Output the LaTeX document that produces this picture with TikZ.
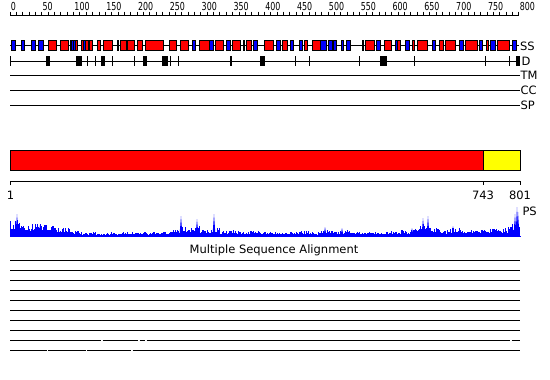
\documentclass[tikz,border=0pt]{standalone}
\usepackage{fontspec}
\setmainfont{DejaVu Sans}
\usepackage{tikz}

\definecolor{ssred}{RGB}{255,0,0}
\definecolor{ssblue}{RGB}{0,0,255}
\definecolor{domyellow}{RGB}{255,255,0}

\begin{document}
\begin{tikzpicture}[x=1pt, y=-1pt, line width=1pt,
    every node/.style={font=\fontsize{11.5}{12}\selectfont, inner sep=0pt},
    rulenum/.style={font=\fontsize{11}{11}\selectfont, xscale=0.72, anchor=base west},
    trackname/.style={anchor=base west},
    helix/.style={draw=black, fill=ssred, line width=0.8pt},
    strand/.style={draw=black, fill=ssblue, line width=0.8pt}]
    \fill[white] (0,0) rectangle (550,380);
    \useasboundingbox (0,0) rectangle (550,380);

    % top ruler
    \draw (10,15) -- (519,15);
    \foreach \r in {0,10,...,800}
        \draw (10+0.63625*\r,11.5) -- (10+0.63625*\r,15);
    \foreach \r in {0,50,...,800}
        \node[rulenum] (r\r) at (10.5+0.63625*\r,10) {\r};

    % secondary structure
    \draw (10,45) -- (519,45);
    \foreach \a/\b in {11/15.7, 21/24.3, 31/35.7, 38/43, 71/73, 73/75, 83/85,
        192.7/195.3, 209/213, 226.7/230, 253/257.7, 276/280, 290.7/293.3,
        299/302, 320.7/326.7, 328/332, 333.3/336.7, 341/343.3, 346.7/350.7,
        376.7/380, 395/397.7, 405/409, 432.7/435.7, 459/463.3, 479/482.3,
        490/495.7, 512.7/516}
        \draw[strand] (\a,40) rectangle (\b,50);
    \foreach \a/\b in {48/56, 60/68, 70/71, 75/77, 81/83, 85/88, 89/92, 97/100,
        103/112, 117/118, 120.7/126.7, 127.3/134.3, 137/142, 145.7/163.3,
        169/176, 180/188, 199/209, 215/223, 232.7/240, 243.3/244.3,
        246.7/251.7, 264/273, 282/287, 304/307, 312/320.7, 332/333, 362/363,
        365/374, 384/391.7, 397.7/400.7, 412/414, 417/427, 439/443.3,
        445/455.7, 465.7/477.7, 486.7/488.3, 497.7/509.3}
        \draw[helix] (\a,40) rectangle (\b,50);
    \node[trackname] (ss) at (519.5,50) {SS};

    % disorder
    \draw (10,61) -- (520,61);
    \foreach \a/\b in {45.7/50, 76/81.7, 101/105, 143.3/146.7, 162.3/167.7,
        230/232.3, 260/265, 308.5/310, 380/386.7, 516/520}
        \fill (\a,56) rectangle (\b,65.5);
    \foreach \x in {10.5, 87.5, 95, 112.3, 134, 170.5, 178, 295.5, 359, 414.5, 485, 509}
        \draw (\x,56) -- (\x,65.5);
    \node[trackname] (d) at (521,65.5) {D};

    % empty tracks
    \draw (10,75) -- (520,75);
    \node[trackname] (tm) at (520,79.2) {TM};
    \draw (10,90.5) -- (520,90.5);
    \node[trackname] (cc) at (520,94.7) {CC};
    \draw (10,105.5) -- (520,105.5);
    \node[trackname] (sp) at (520,109.7) {SP};

    % domains
    \draw[fill=ssred] (10,150) rectangle (483,170.5);
    \draw[fill=domyellow] (483,150) rectangle (520,170.5);

    % scale
    \draw (10,181) -- (520,181);
    \foreach \x in {10,483,520}
        \draw (\x,181) -- (\x,185);
    \node[anchor=base] (s1) at (10.5,199.5) {1};
    \node[anchor=base] (s743) at (483,199.5) {743};
    \node[anchor=base] (s801) at (520,199.5) {801};

    % PS plot
    \pgfmathsetseed{7}
    \draw[ssblue] (10,236) -- (521,236);
    \foreach \e [count=\i from 0] in {16,14,14,12,10,8,5,4,4,3,4,4,4,4,4,5,7,9,10,7,
        8,5,6,4,6,4,4,4,4,5,4,6,5,6,4,4,4,4,5,6,10,16,10,6,8,6,6,7,8,9,14}
        \foreach \k in {0,...,9} {
            \pgfmathsetmacro\h{\e*(0.35+0.65*rnd)}
            \fill[ssblue] (10+10*\i+\k,236) rectangle ++(1.2,-\h);
        }
    \foreach \x/\h in {17/22, 40/11, 181/20, 197/17, 214/22, 325/9, 342/8, 412/8,
        423/18, 428/20, 453/10, 515/22, 517/29, 518/24}
        \fill[ssblue] (\x-1.5,236) -- (\x,236-\h) -- (\x+1.5,236) -- cycle;
    \node[trackname] (ps) at (522,215) {PS};

    % alignment
    \node[anchor=base] (msa) at (274,253) {Multiple Sequence Alignment};
    \foreach \y in {260,270,...,330}
        \draw (10,\y) -- (520,\y);
    \draw (10,340) -- (101,340) (102.5,340) -- (138,340) (139.5,340) -- (145,340)
        (146.5,340) -- (510,340) (511.5,340) -- (520,340);
    \draw (10,350) -- (46.5,350) (48,350) -- (85.5,350)
        (87,350) -- (131,350) (132.5,350) -- (520,350);
\end{tikzpicture}
\end{document}
